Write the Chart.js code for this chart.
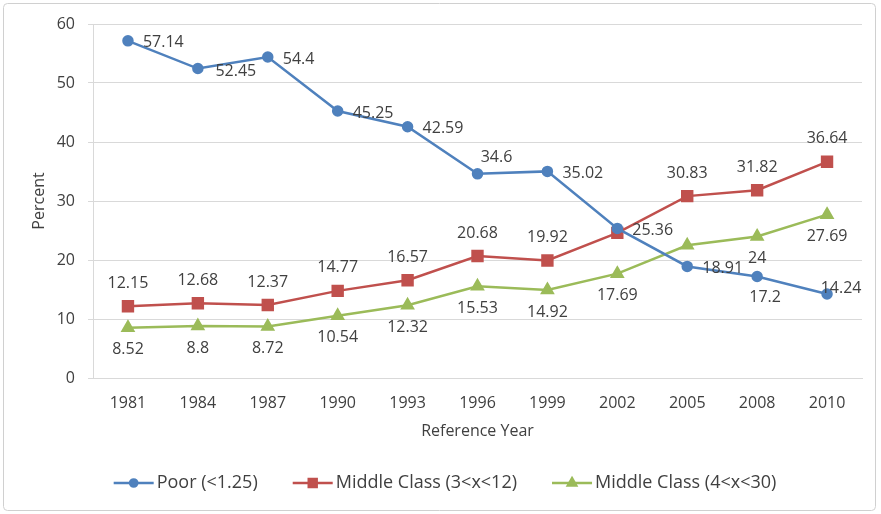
<!DOCTYPE html>
<html>
<head>
<meta charset="utf-8">
<script src="https://cdn.jsdelivr.net/npm/chart.js@4.4.1/dist/chart.umd.min.js"></script>
<style>
  html, body { margin: 0; padding: 0; background: #fff; }
  #wrap { width: 881px; height: 514px; }
</style>
</head>
<body>
<div id="wrap"><canvas id="myChart" width="881" height="514"></canvas></div>
<script>
// dane wykresu
const years = ['1981', '1984', '1987', '1990', '1993', '1996', '1999', '2002', '2005', '2008', '2010'];
const poor = [57.14, 52.45, 54.4, 45.25, 42.59, 34.6, 35.02, 25.36, 18.91, 17.2, 14.24];
const middle3to12 = [12.15, 12.68, 12.37, 14.77, 16.57, 20.68, 19.92, 24.6, 30.83, 31.82, 36.64];
const middle4to30 = [8.52, 8.8, 8.72, 10.54, 12.32, 15.53, 14.92, 17.69, 22.5, 24, 27.69];
const yTicks = [0, 10, 20, 30, 40, 50, 60];

const fontFamily = '"Open Sans", "DejaVu Sans", sans-serif';
const textColor = '#404040';
const gridColor = '#d9d9d9';

// etykiety danych: domyslne polozenie dla serii + wyjatki [dx, dy] (srodek tekstu)
const labelPlacement = [
    { pos: 'right', hide: [], special: { 1: [38, 3], 5: [19, -16], 9: [8, 21], 10: [14, -6] } },
    { pos: 'above', hide: [7], special: {} },
    { pos: 'below', hide: [8], special: {} }
];

const dataLabels = {
    id: 'dataLabels',
    afterDatasetsDraw(chart) {
        const ctx = chart.ctx;
        ctx.save();
        ctx.font = '16px ' + fontFamily;
        ctx.fillStyle = textColor;
        ctx.textBaseline = 'middle';
        chart.data.datasets.forEach((ds, di) => {
            const meta = chart.getDatasetMeta(di);
            const cfg = labelPlacement[di];
            meta.data.forEach((pt, i) => {
                if (cfg.hide.includes(i)) return;
                const txt = String(ds.data[i]);
                let x = pt.x, y = pt.y;
                if (cfg.special[i]) {
                    ctx.textAlign = 'center';
                    x = pt.x + cfg.special[i][0];
                    y = pt.y + cfg.special[i][1];
                } else if (cfg.pos === 'right') {
                    ctx.textAlign = 'left';
                    x = pt.x + 15;
                    y = pt.y + 2;
                } else if (cfg.pos === 'above') {
                    ctx.textAlign = 'center';
                    y = pt.y - 23;
                } else {
                    ctx.textAlign = 'center';
                    y = pt.y + 22;
                }
                ctx.fillText(txt, x, y);
            });
        });
        ctx.restore();
    }
};

// ramka i legenda rysowane recznie (linia + znacznik jak w Excelu)
const frameAndLegend = {
    id: 'frameAndLegend',
    beforeDraw(chart) {
        const ctx = chart.ctx;
        ctx.save();
        ctx.strokeStyle = '#d0d0d0';
        ctx.lineWidth = 1;
        ctx.beginPath();
        ctx.roundRect(3.5, 3.5, 872, 507, 4);
        ctx.stroke();
        ctx.restore();
    },
    afterDraw(chart) {
        const ctx = chart.ctx;
        ctx.save();
        ctx.font = '18px ' + fontFamily;
        ctx.textBaseline = 'middle';
        const lineLen = 40, gapText = 3, gapItem = 35, y = 483;
        const items = chart.data.datasets.map(ds => ({
            ds: ds,
            w: lineLen + gapText + ctx.measureText(ds.label).width
        }));
        const total = items.reduce((s, it) => s + it.w, 0) + gapItem * (items.length - 1);
        let x = 445 - total / 2;
        items.forEach(it => {
            const ds = it.ds;
            ctx.strokeStyle = ds.borderColor;
            ctx.fillStyle = ds.borderColor;
            ctx.lineWidth = 2.5;
            ctx.beginPath();
            ctx.moveTo(x, y);
            ctx.lineTo(x + lineLen, y);
            ctx.stroke();
            Chart.helpers.drawPoint(ctx, {
                pointStyle: ds.pointStyle,
                radius: ds.pointRadius * 0.8,
                borderWidth: 1
            }, x + lineLen / 2, y);
            ctx.fillStyle = textColor;
            ctx.textAlign = 'left';
            ctx.fillText(ds.label, x + lineLen + gapText, y);
            x += it.w + gapItem;
        });
        ctx.restore();
    }
};

function makeSeries(label, data, color, style, radius) {
    return {
        label: label,
        data: data,
        borderColor: color,
        backgroundColor: color,
        pointBackgroundColor: color,
        pointBorderColor: color,
        pointStyle: style,
        pointRadius: radius,
        pointHoverRadius: radius,
        borderWidth: 2.5,
        tension: 0
    };
}

const ctx = document.getElementById('myChart').getContext('2d');
const myChart = new Chart(ctx, {
    type: 'line',
    data: {
        labels: years,
        datasets: [
            makeSeries('Poor (<1.25)', poor, '#4f81bd', 'circle', 4.5),
            makeSeries('Middle Class (3<x<12)', middle3to12, '#c0504d', 'rect', 7),
            makeSeries('Middle Class (4<x<30)', middle4to30, '#9bbb59', 'triangle', 6)
        ]
    },
    options: {
        responsive: false,
        animation: false,
        layout: {
            padding: { left: 30, right: 19, top: 24, bottom: 69 }
        },
        plugins: {
            legend: { display: false },
            tooltip: { enabled: false }
        },
        scales: {
            x: {
                offset: true,
                grid: { display: false, drawTicks: false },
                border: { display: true, color: gridColor, width: 1 },
                ticks: {
                    color: textColor,
                    padding: 16,
                    font: { family: fontFamily, size: 16 }
                },
                title: {
                    display: true,
                    text: 'Reference Year',
                    color: textColor,
                    padding: { top: 0, bottom: 4 },
                    font: { family: fontFamily, size: 16 }
                },
                afterFit(scale) { scale.height = 67; }
            },
            y: {
                min: 0,
                max: 60,
                afterBuildTicks(scale) { scale.ticks = yTicks.map(v => ({ value: v })); },
                grid: { color: gridColor, tickLength: 5 },
                border: { display: true, color: gridColor, width: 1 },
                ticks: {
                    color: textColor,
                    padding: 13,
                    font: { family: fontFamily, size: 16 }
                },
                title: {
                    display: true,
                    text: 'Percent',
                    color: textColor,
                    padding: 0,
                    font: { family: fontFamily, size: 16 }
                },
                afterFit(scale) { scale.width = 63; }
            }
        }
    },
    plugins: [dataLabels, frameAndLegend]
});
</script>
</body>
</html>
